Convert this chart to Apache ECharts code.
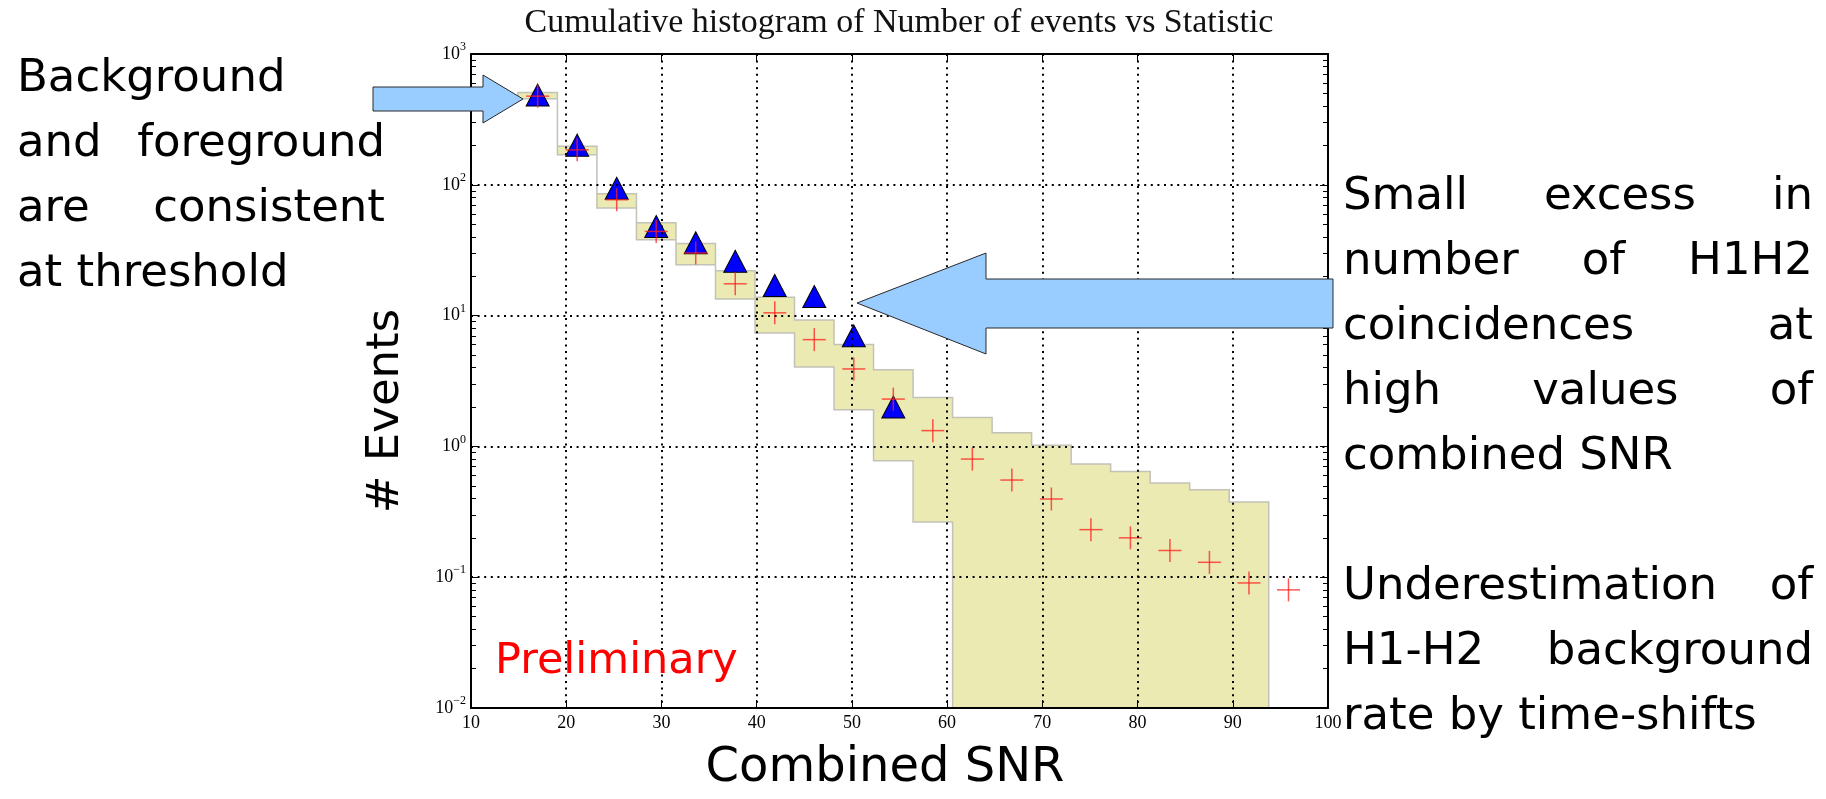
<!DOCTYPE html>
<html>
<head>
<meta charset="utf-8">
<script src="https://cdn.jsdelivr.net/npm/echarts@6/dist/echarts.min.js"></script>
<style>
  html, body { margin: 0; padding: 0; background: #ffffff; }
  #chart { width: 1826px; height: 799px; }
</style>
</head>
<body>
<div id="chart"></div>
<script>
// Bin centres of the cumulative histogram (combined SNR)
const snrBins = [17.0, 21.15, 25.3, 29.45, 33.6, 37.75, 41.9, 46.05, 50.2, 54.35,
                 58.5, 62.65, 66.8, 70.95, 75.1, 79.25, 83.4, 87.55, 91.7, 95.85];
// Mean time-shift background, cumulative number of events
const backgroundMean = [476, 185, 76.9, 44, 30.1, 17.5, 10.5, 6.55, 3.91, 2.30,
                        1.32, 0.80, 0.553, 0.396, 0.231, 0.200, 0.160, 0.130, 0.0904, 0.080];
// Spread of the background estimate per bin (0 = open down to the axis floor)
const bandUpper = [508, 197, 85.5, 51.3, 35.6, 22, 13.8, 9.25, 6.0, 3.86,
                   2.37, 1.66, 1.27, 1.02, 0.733, 0.644, 0.525, 0.467, 0.376];
const bandLower = [455, 170, 66.5, 38, 24.5, 13.4, 7.36, 4.05, 1.91, 0.778,
                   0.264, 0, 0, 0, 0, 0, 0, 0, 0];
// Zero-lag (foreground) H1H2 coincidences, cumulative number of events
const foregroundCounts = [485, 201, 94, 48, 36, 26, 17, 14, 7, 2];

// Axis ranges and tick labels
const xRange = [10, 100];
const xStep = 10;
const yRange = [0.01, 1000];
const yTickValues = [0.01, 0.1, 1, 10, 100, 1000];
const yTickExponents = ['\u22122', '\u22121', '0', '1', '2', '3'];

// Text blocks
const titleText = 'Cumulative histogram of Number of events vs Statistic';
const xAxisTitle = 'Combined SNR';
const yAxisTitle = '# Events';
const stampText = 'Preliminary';
const leftNote = [
  { text: 'Background', justify: false },
  { text: 'and foreground', justify: true },
  { text: 'are consistent', justify: true },
  { text: 'at threshold', justify: false }
];
const rightNote = [
  { text: 'Small excess in', justify: true },
  { text: 'number of H1H2', justify: true },
  { text: 'coincidences at', justify: true },
  { text: 'high values of', justify: true },
  { text: 'combined SNR', justify: false },
  null,
  { text: 'Underestimation of', justify: true },
  { text: 'H1-H2 background', justify: true },
  { text: 'rate by time-shifts', justify: false }
];

const SANS = 'DejaVu Sans';
const SERIF = 'Liberation Serif';

// Step edges between neighbouring bin centres
function binEdges(count) {
  const edges = [];
  edges.push(snrBins[0] - (snrBins[1] - snrBins[0]) / 2);
  for (let i = 1; i < count; i++) edges.push((snrBins[i - 1] + snrBins[i]) / 2);
  edges.push((snrBins[count - 1] + snrBins[count]) / 2);
  return edges;
}

// Justified paragraph, one text element per word
const measureCtx = document.createElement('canvas').getContext('2d');
function textBlock(lines, x0, x1, yFirst, step, size, color) {
  const els = [];
  measureCtx.font = size + 'px "' + SANS + '"';
  lines.forEach(function (line, i) {
    if (!line) return;
    const y = yFirst + i * step;
    const words = line.text.split(' ');
    const base = { fontSize: size, fontFamily: SANS, fill: color,
                   align: 'left', verticalAlign: 'middle',
                   textAlign: 'left', textVerticalAlign: 'middle' };
    if (!line.justify || words.length < 2) {
      els.push({ type: 'text', x: x0, y: y, z: 50, style: Object.assign({ text: line.text }, base) });
      return;
    }
    const widths = words.map(function (w) { return measureCtx.measureText(w).width; });
    const total = widths.reduce(function (a, b) { return a + b; }, 0);
    const gap = Math.max((x1 - x0 - total) / (words.length - 1), measureCtx.measureText(' ').width);
    let cx = x0;
    words.forEach(function (w, k) {
      els.push({ type: 'text', x: cx, y: y, z: 50, style: Object.assign({ text: w }, base) });
      cx += widths[k] + gap;
    });
  });
  return els;
}

function blockArrow(points) {
  return {
    type: 'polygon', z: 60,
    shape: { points: points },
    style: { fill: '#99ccff', stroke: '#2a2a2a', lineWidth: 1 }
  };
}

const chart = echarts.init(document.getElementById('chart'), null, { renderer: 'canvas' });

const frameLine = { show: true, onZero: false, lineStyle: { color: '#000', width: 2 } };
const majorTick = { show: true, inside: true, length: 8, lineStyle: { color: '#000', width: 1 } };
const minorTick = { show: true, splitNumber: 9, length: 5, lineStyle: { color: '#000', width: 1 } };
const gridDots = { show: true, lineStyle: { color: '#000', width: 2, type: [2, 4.6] } };

const option = {
  animation: false,
  backgroundColor: '#ffffff',
  grid: { left: 471, right: 498, top: 54, bottom: 91, containLabel: false },
  xAxis: [
    {
      type: 'value', position: 'bottom', min: xRange[0], max: xRange[1], interval: xStep, z: 5,
      axisLine: frameLine, axisTick: majorTick,
      axisLabel: { show: true, margin: 6, color: '#000', fontFamily: SERIF, fontSize: 18,
                   showMinLabel: true, showMaxLabel: true },
      splitLine: gridDots
    },
    {
      type: 'value', position: 'top', min: xRange[0], max: xRange[1], interval: xStep, z: 5,
      axisLine: frameLine, axisTick: majorTick,
      axisLabel: { show: false }, splitLine: { show: false }
    }
  ],
  yAxis: [
    {
      type: 'log', logBase: 10, position: 'left', min: yRange[0], max: yRange[1], z: 5,
      axisLine: frameLine, axisTick: majorTick, minorTick: minorTick,
      axisLabel: {
        show: true, margin: 5, color: '#000', showMinLabel: true, showMaxLabel: true,
        formatter: function (v) {
          const idx = yTickValues.findIndex(function (t) { return Math.abs(Math.log10(t) - Math.log10(v)) < 1e-6; });
          return '{b|10}{e|' + (idx >= 0 ? yTickExponents[idx] : '') + '}';
        },
        rich: {
          b: { fontFamily: SERIF, fontSize: 18, lineHeight: 26, color: '#000' },
          e: { fontFamily: SERIF, fontSize: 12, lineHeight: 12, verticalAlign: 'top', color: '#000' }
        }
      },
      splitLine: gridDots
    },
    {
      type: 'log', logBase: 10, position: 'right', min: yRange[0], max: yRange[1], z: 5,
      axisLine: frameLine, axisTick: majorTick, minorTick: minorTick,
      axisLabel: { show: false }, splitLine: { show: false }
    }
  ],
  series: [
    {
      // shaded background spread, drawn as one stepped polygon
      type: 'custom', name: 'band', z: 1, xAxisIndex: 0, yAxisIndex: 0,
      data: [[snrBins[0], bandUpper[0]]],
      renderItem: function (params, api) {
        const n = bandUpper.length;
        const edges = binEdges(n);
        const pts = [];
        for (let i = 0; i < n; i++) {
          pts.push(api.coord([edges[i], bandUpper[i]]));
          pts.push(api.coord([edges[i + 1], bandUpper[i]]));
        }
        for (let i = n - 1; i >= 0; i--) {
          const lo = Math.max(bandLower[i], yRange[0]);
          pts.push(api.coord([edges[i + 1], lo]));
          pts.push(api.coord([edges[i], lo]));
        }
        return {
          type: 'polygon', shape: { points: pts },
          style: { fill: '#eaeab2', stroke: '#c2c2b8', lineWidth: 1.5 }
        };
      }
    },
    {
      type: 'scatter', name: 'foreground', z: 3, xAxisIndex: 0, yAxisIndex: 0,
      symbol: 'triangle', symbolSize: [23, 22],
      itemStyle: { color: '#0000ff', borderColor: '#000', borderWidth: 1, opacity: 1 },
      data: foregroundCounts.map(function (v, i) { return [snrBins[i], v]; })
    },
    {
      // background mean as '+' markers
      type: 'custom', name: 'background', z: 4, xAxisIndex: 0, yAxisIndex: 0,
      data: backgroundMean.map(function (v, i) { return [snrBins[i], v]; }),
      renderItem: function (params, api) {
        const p = api.coord([api.value(0), api.value(1)]);
        const h = 11.5;
        const st = { stroke: 'rgba(255,30,30,0.75)', lineWidth: 1.5 };
        return {
          type: 'group',
          children: [
            { type: 'line', shape: { x1: p[0] - h, y1: p[1], x2: p[0] + h, y2: p[1] }, style: st },
            { type: 'line', shape: { x1: p[0], y1: p[1] - h, x2: p[0], y2: p[1] + h }, style: st }
          ]
        };
      }
    }
  ],
  graphic: [].concat(
    [
      { type: 'text', x: 899, y: 23, z: 50,
        style: { text: titleText, fontFamily: SERIF, fontSize: 34, fill: '#111',
                 align: 'center', verticalAlign: 'middle', textAlign: 'center', textVerticalAlign: 'middle' } },
      { type: 'text', x: 885, y: 769, z: 50,
        style: { text: xAxisTitle, fontFamily: SANS, fontSize: 48, fill: '#000',
                 align: 'center', verticalAlign: 'middle', textAlign: 'center', textVerticalAlign: 'middle' } },
      { type: 'text', x: 386, y: 411, z: 50, rotation: Math.PI / 2,
        style: { text: yAxisTitle, fontFamily: SANS, fontSize: 45, fill: '#000',
                 align: 'center', verticalAlign: 'middle', textAlign: 'center', textVerticalAlign: 'middle' } },
      { type: 'text', x: 495, y: 662, z: 50,
        style: { text: stampText, fontFamily: SANS, fontSize: 43, fill: '#ff0000',
                 align: 'left', verticalAlign: 'middle', textAlign: 'left', textVerticalAlign: 'middle' } },
      blockArrow([[373, 87], [483, 87], [483, 75], [523, 99], [483, 123], [483, 111], [373, 111]]),
      blockArrow([[1333, 279], [986, 279], [986, 253], [857, 303], [986, 354], [986, 328], [1333, 328]])
    ],
    textBlock(leftNote, 17, 385, 79, 65, 45, '#000'),
    textBlock(rightNote, 1343, 1813, 197, 65, 45, '#000')
  )
};

chart.setOption(option);
</script>
</body>
</html>
